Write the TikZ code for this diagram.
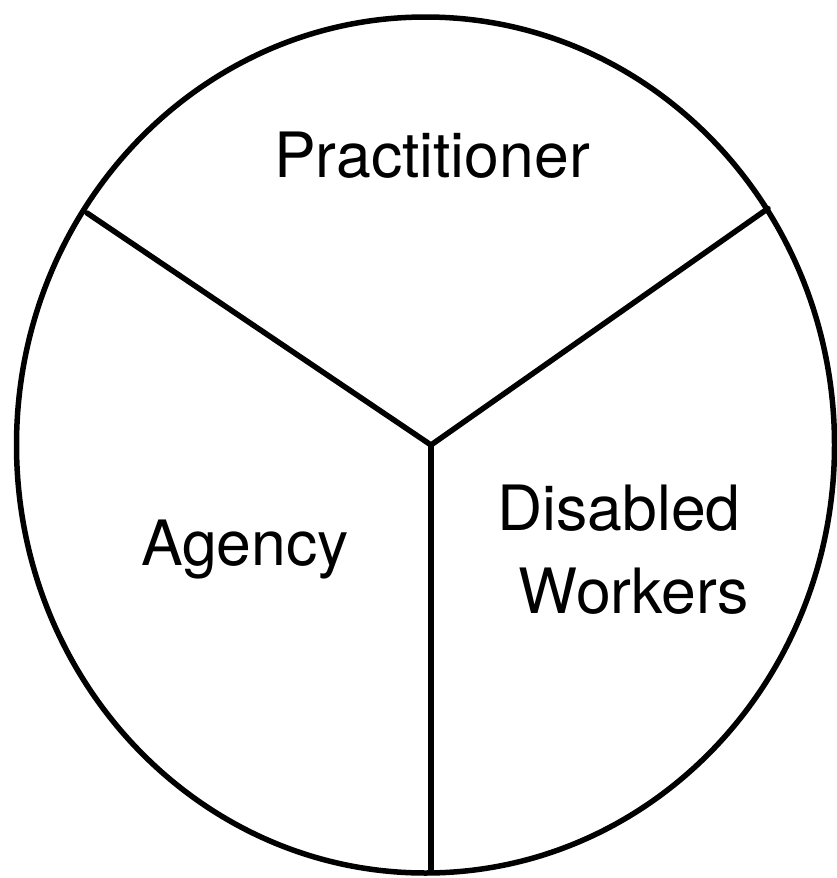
\documentclass[tikz,border=0pt]{standalone}
\usepackage{fontspec}
\setmainfont{TeX Gyre Heros}
\begin{document}
\begin{tikzpicture}[x=1pt,y=-1pt,
  edge/.style={line width=5.5pt,line cap=round,line join=round},
  lbl/.style={font=\fontsize{62.5}{82}\selectfont,inner sep=0pt,anchor=base,align=center}]
\useasboundingbox (0,0) rectangle (836,878);
\coordinate (C) at (425.5,445);
\draw[edge] (C) ellipse [x radius=409,y radius=428];
\coordinate (J) at (431,445);
\coordinate (L) at (87,213);
\coordinate (R) at (768,208.5);
\coordinate (B) at (431,872);
\draw[edge] (L) -- (J) -- (R);
\draw[edge] (J) -- (B);
\node[lbl] (prac) at (432,177) {Practitioner};
\node[lbl] (agen) at (245,565) {Agency};
\node[lbl] (dis1) at (619,530) {Disabled};
\node[lbl] (dis2) at (634,613) {Workers};
\end{tikzpicture}
\end{document}
